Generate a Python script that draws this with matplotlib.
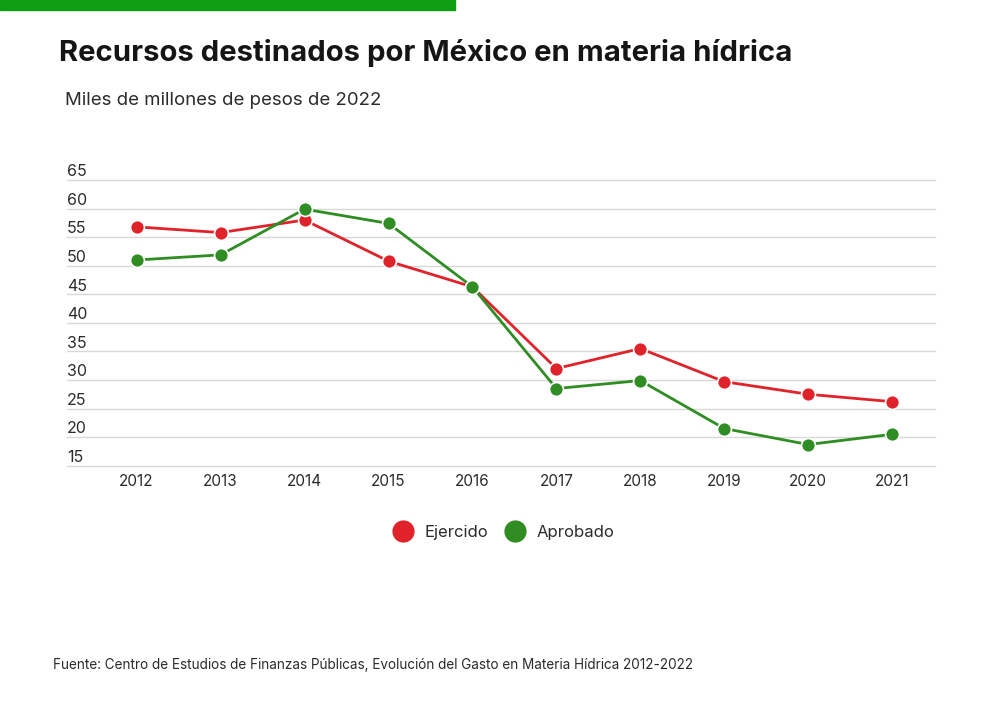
import matplotlib.pyplot as plt
from matplotlib.lines import Line2D

years = [2012, 2013, 2014, 2015, 2016, 2017, 2018, 2019, 2020, 2021]
ejercido = [56.8, 55.8, 58.0, 50.8, 46.3, 32.0, 35.5, 29.7, 27.5, 26.2]
aprobado = [51.0, 51.9, 59.9, 57.4, 46.3, 28.5, 29.9, 21.5, 18.7, 20.5]
y_ticks = [15, 20, 25, 30, 35, 40, 45, 50, 55, 60, 65]

RED = "#e0232b"
GREEN = "#2f8d24"
TEXT = "#2b2b2b"

plt.rcParams["font.family"] = ["Inter", "DejaVu Sans"]

fig = plt.figure(figsize=(10, 7.01), dpi=100)
fig.patch.set_facecolor("white")

# green strip at the top
fig.patches.append(plt.Rectangle((0, 1 - 10 / 701), 0.455, 10 / 701,
                                 transform=fig.transFigure, color="#0f9d14", zorder=0))

fig.text(0.059, 0.925, "Recursos destinados por México en materia hídrica",
         fontsize=21.1, fontweight="bold", color="#151515", va="center")
fig.text(0.065, 0.856, "Miles de millones de pesos de 2022",
         fontsize=13.4, color=TEXT, va="center")

ax = fig.add_axes([0.067, 0.3357, 0.868, 0.4075])
ax.plot(years, ejercido, color=RED, lw=2, marker="o", ms=10,
        markeredgecolor="white", markeredgewidth=1.2, clip_on=False, zorder=3)
ax.plot(years, aprobado, color=GREEN, lw=2, marker="o", ms=10,
        markeredgecolor="white", markeredgewidth=1.2, clip_on=False, zorder=4)

ax.set_xlim(2012 - 0.83, 2021 + 0.51)
ax.set_ylim(15, 65)
ax.set_yticks(y_ticks)
ax.set_yticklabels([])
ax.set_xticks(years)
ax.grid(axis="y", color="#d8d8d8", lw=1)
for gl in ax.yaxis.get_gridlines():
    gl.set_clip_on(False)
ax.set_axisbelow(True)
for s in ax.spines.values():
    s.set_visible(False)
ax.tick_params(length=0, labelsize=11, labelcolor=TEXT)
ax.tick_params(axis="x", pad=6)

# y labels sit just above their gridline, at the left edge
for v in y_ticks:
    ax.annotate(str(v), xy=(0, v), xycoords=ax.get_yaxis_transform(),
                xytext=(0, 0.5), textcoords="offset points",
                ha="left", va="bottom", fontsize=11.5, color=TEXT)

handles = [Line2D([], [], marker="o", ls="", ms=15, color=RED, label="Ejercido"),
           Line2D([], [], marker="o", ls="", ms=15, color=GREEN, label="Aprobado")]
fig.legend(handles=handles, loc="center", bbox_to_anchor=(0.5, 0.24), ncol=2,
           frameon=False, fontsize=12, handletextpad=0.3, columnspacing=0.6,
           labelcolor=TEXT)

fig.text(0.053, 0.051, "Fuente: Centro de Estudios de Finanzas Públicas, Evolución del Gasto en Materia Hídrica 2012-2022",
         fontsize=9.75, color=TEXT, va="center")

fig.savefig("out.png", dpi=100)
